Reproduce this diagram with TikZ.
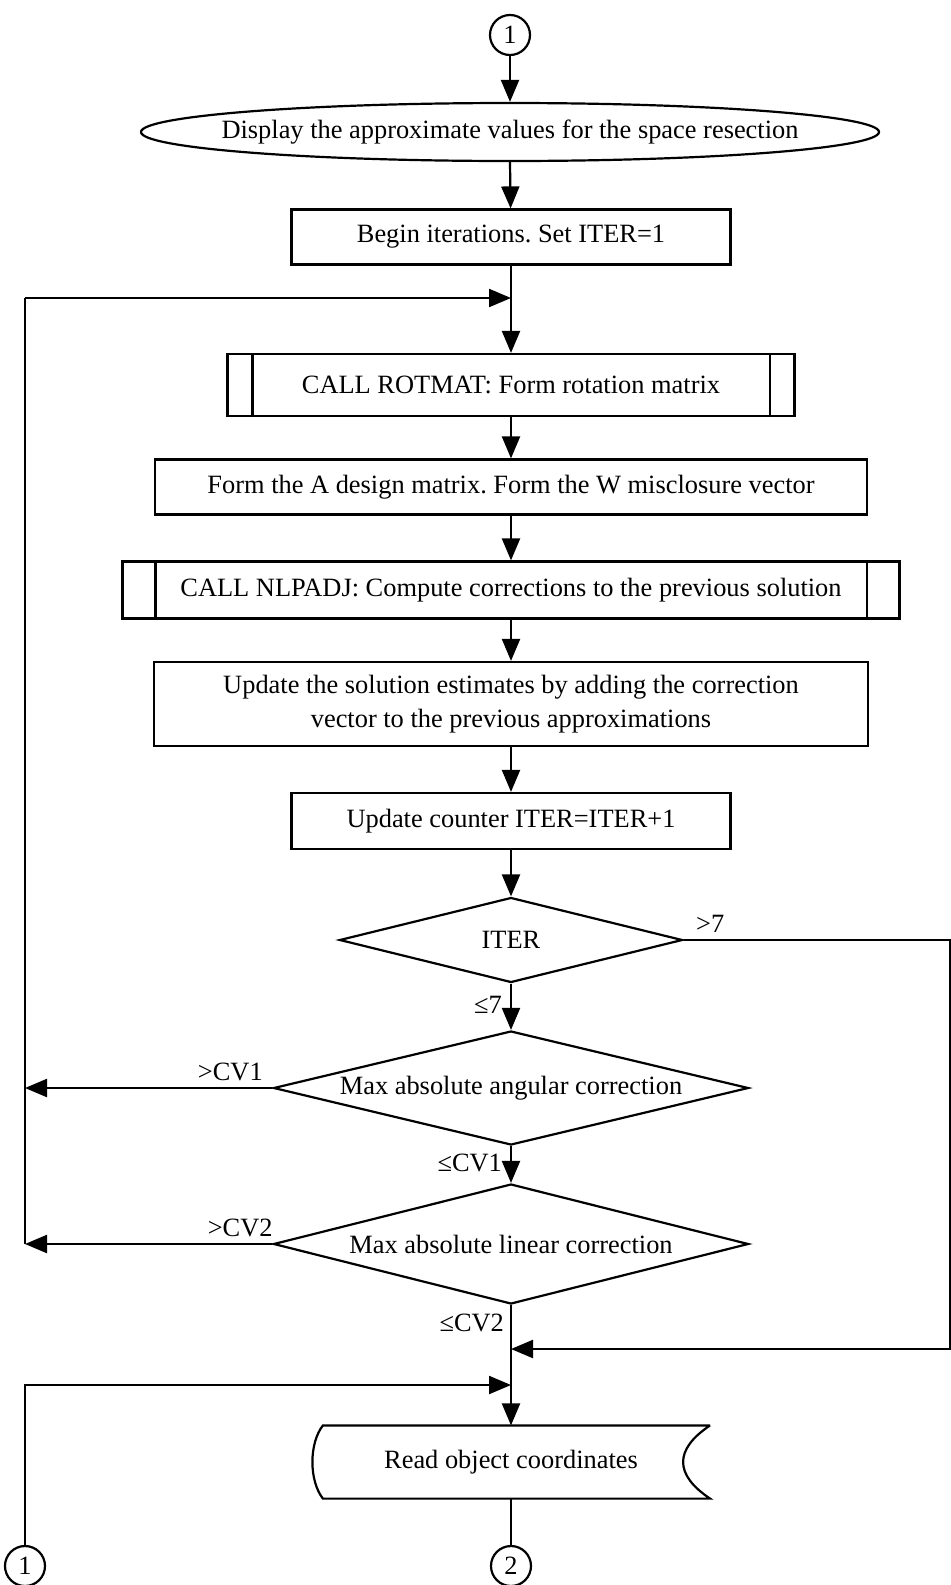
\documentclass[tikz,border=0pt]{standalone}
\usepackage{fontspec}
\setmainfont{Liberation Serif}
\usetikzlibrary{shapes.geometric,arrows.meta}

\begin{document}
\frenchspacing
\begin{tikzpicture}
  \begin{scope}[x={(0.5pt,0)},y={(0,-0.5pt)},line width=1.1pt,
    every node/.style={font=\fontsize{13.2}{16}\selectfont,inner sep=0pt},
    box/.style={draw,rectangle},
    test/.style={draw,diamond},
    conn/.style={draw,circle,minimum size=20pt},
    arr/.style={-{Triangle[length=11pt,width=9pt]}}]
    % \draw[help lines,step=50] (0,0) grid (951,1585);
    \useasboundingbox (0,0) rectangle (951,1585);
    \node[conn] (C_in) at (510,35) {1};
    \node[minimum width=369pt,minimum height=29pt] (disp) at (510,132)
    {Display the approximate values for the space resection};
    \draw (disp.center) ellipse [x radius=184.5pt,y radius=14.5pt];
    \node[box,minimum width=219.5pt,minimum height=27.5pt] (begin) at (511,237)
    {Begin iterations. Set ITER=1};
    \node[box,minimum width=283.5pt,minimum height=31pt] (rot) at (511,385)
    {CALL ROTMAT: Form rotation matrix};
    \draw ([xshift=13pt]rot.north west) -- ([xshift=13pt]rot.south west)
    ([xshift=-13pt]rot.north east) -- ([xshift=-13pt]rot.south east);
    \node[box,minimum width=356pt,minimum height=27.5pt] (design) at (511,487)
    {Form the A design matrix. Form the W misclosure vector};
    \node[box,minimum width=388.5pt,minimum height=28.5pt] (nlp) at (511,590)
    {CALL NLPADJ: Compute corrections to the previous solution};
    \draw ([xshift=17pt]nlp.north west) -- ([xshift=17pt]nlp.south west)
    ([xshift=-17pt]nlp.north east) -- ([xshift=-17pt]nlp.south east);
    \node[box,minimum width=357pt,minimum height=42pt,align=center] (upd) at (511,704)
    {Update the solution estimates by adding the correction\\[1pt]
      vector to the previous approximations};
    \node[box,minimum width=219.5pt,minimum height=28pt] (count) at (511,821)
    {Update counter ITER=ITER+1};
    \node[test,minimum width=171.5pt,minimum height=42.5pt,aspect=4] (iter) at (511,940) {ITER};
    \node[test,minimum width=237.5pt,minimum height=57pt,aspect=4.2] (ang) at (511,1088)
    {Max absolute angular correction};
    \node[test,minimum width=237.5pt,minimum height=60pt,aspect=4] (lin) at (511,1244)
    {Max absolute linear correction};
    \node[minimum width=198pt,minimum height=35.5pt] (read) at (511,1462)
    {Read object coordinates};
    \draw (read.north east) -- ([xshift=5.5pt]read.north west)
    .. controls +(-7pt,-9pt) and +(-7pt,9pt) ..
    ([xshift=5.5pt]read.south west) -- (read.south east)
    .. controls +(-18pt,12pt) and +(-18pt,-12pt) .. (read.north east);
    \node[conn] (C_out) at (511,1566) {2};
    \node[conn] (C_back) at (25,1566) {1};

    % main line down the page
    \draw[arr] (C_in) -- (C_in |- disp.north);
    \draw[arr] (C_in |- disp.south) -- (begin);
    \draw[arr] (begin) -- (rot);
    \draw[arr] (rot) -- (design);
    \draw[arr] (design) -- (nlp);
    \draw[arr] (nlp) -- (upd);
    \draw[arr] (upd) -- (count);
    \draw[arr] (count) -- (iter);
    \draw[arr] (iter) -- node[pos=.45,left=4pt]{≤7} (ang);
    \draw[arr] (ang) -- node[pos=.45,left=4pt]{≤CV1} (lin);
    \draw[arr] (lin) -- node[pos=.15,left=3pt]{≤CV2} (read);
    \draw (read) -- (C_out);

    % loops back to the rotation matrix
    \coordinate (L_top) at (25,298);
    \coordinate (L_bot) at (25,1244);
    \draw[arr] (L_top) -- (L_top -| begin);
    \draw (L_top) -- (L_bot);
    \draw[arr] (ang.west) -- node[pos=.17,above=3pt]{>CV1} (ang.west -| L_bot);
    \draw[arr] (lin.west) -- node[pos=.13,above=3pt]{>CV2} (L_bot);

    % too many iterations, and the entry from connector 1
    \coordinate (R_top) at (950,940);
    \coordinate (R_bot) at (950,1349);
    \draw[arr] (iter.east) -- node[pos=.1,above=3pt]{>7} (R_top) -- (R_bot) -- (R_bot -| read);
    \coordinate (B_join) at (25,1385);
    \draw[arr] (C_back) -- (B_join) -- (B_join -| read);
  \end{scope}
\end{tikzpicture}
\end{document}
